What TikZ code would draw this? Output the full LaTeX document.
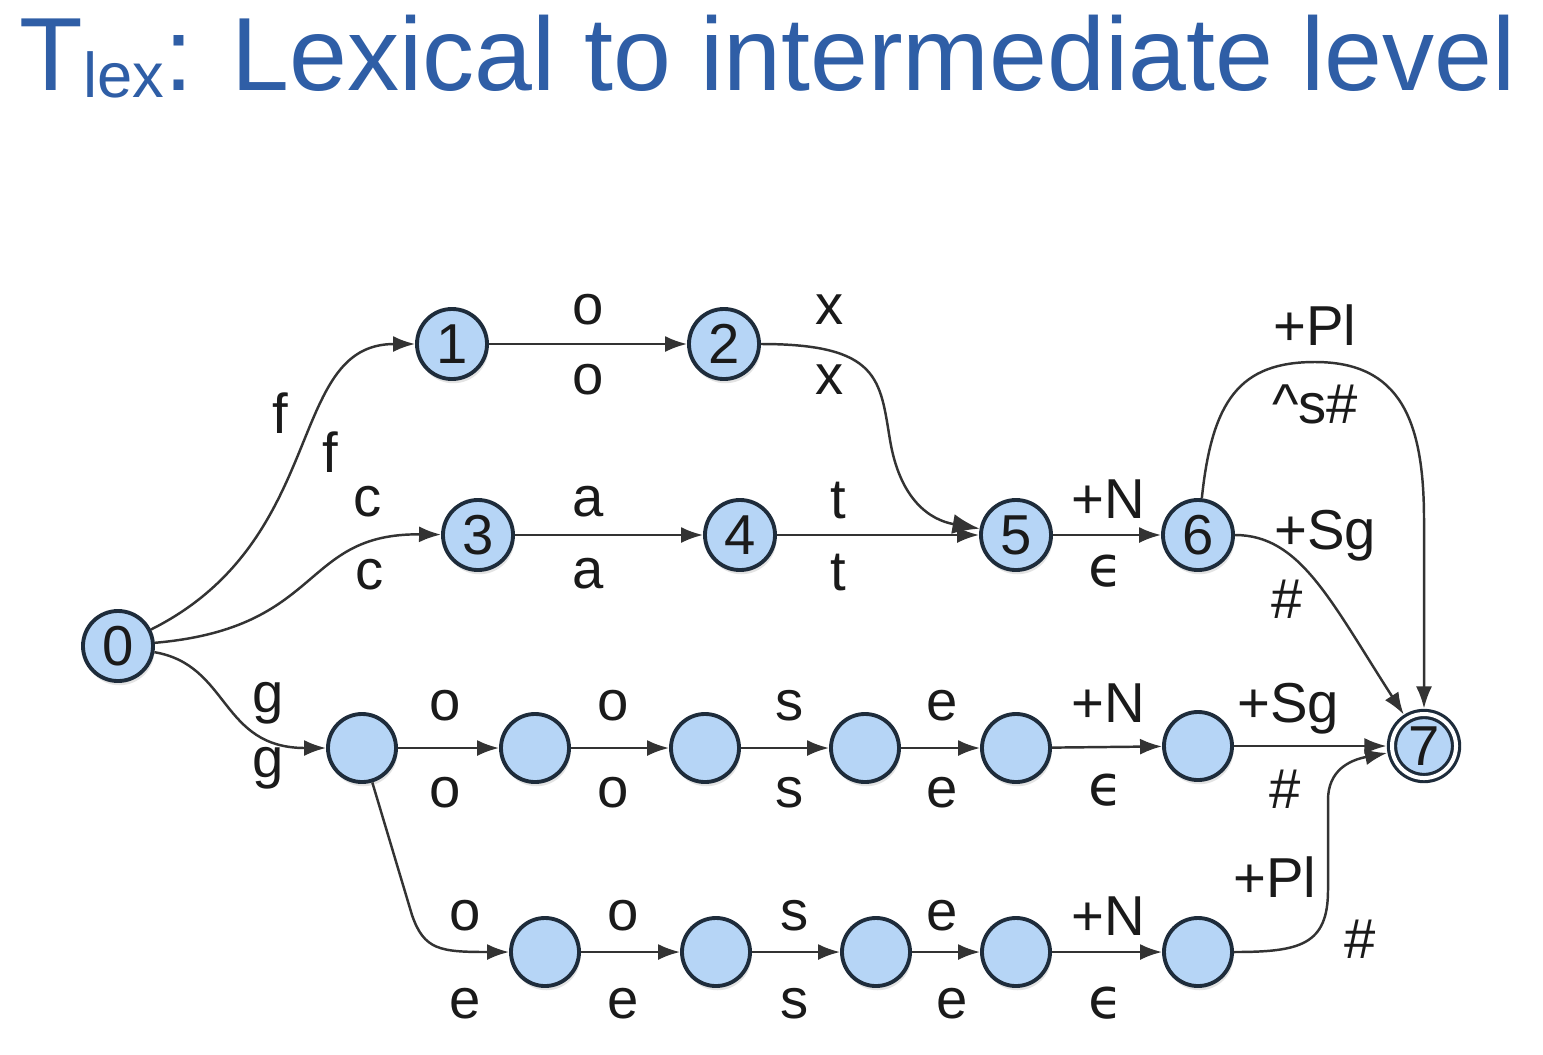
\documentclass[tikz,border=0pt]{standalone}
\usepackage{fontspec}
\setmainfont{Liberation Sans}
\newfontfamily\symfont{DejaVu Sans}
\usetikzlibrary{arrows.meta,shadows}
\definecolor{statefill}{HTML}{B6D5F6}
\definecolor{stateline}{HTML}{1E2C3B}
\definecolor{titleblue}{HTML}{2F5EA6}
\definecolor{ink}{HTML}{1A1A1A}
\definecolor{wire}{HTML}{333333}
\newcommand{\eps}{{\symfont ϵ}}
\begin{document}
\begin{tikzpicture}[x=0.01cm,y=-0.01cm,
  stt/.style={circle, draw=stateline, fill=statefill, line width=1.1pt,
    minimum size=0.7cm, inner sep=0pt, text=ink,
    font=\fontsize{16}{16}\selectfont,
    drop shadow={opacity=0.22, shadow xshift=0.4pt, shadow yshift=-1.2pt}},
  sttb/.style={stt, minimum size=0.68cm},
  sttf/.style={stt, double, double distance=0.04cm, line width=0.9pt,
    minimum size=0.64cm, outer sep=0.055cm},
  lbl/.style={anchor=base, text=ink, font=\fontsize{16}{16}\selectfont, inner sep=0pt},
  trans/.style={draw=wire, line width=0.7pt, -{Latex[length=0.22cm,width=0.16cm]}},
  bigtip/.style={-{Latex[length=0.27cm,width=0.2cm]}},
]
\useasboundingbox[fill=white] (0,0) rectangle (1543,1054);

% title
\node[anchor=base west, text=titleblue, inner sep=0pt,
  font=\fontsize{29.6}{30}\selectfont] (title) at (19,90)
  {T\raisebox{-0.07cm}{\fontsize{18}{18}\selectfont lex}: Lexical to intermediate level};

% numbered states
\node[stt] (q0) at (118,646) {0};
\node[stt] (q1) at (452,344) {1};
\node[stt] (q2) at (724,344) {2};
\node[stt] (q3) at (478,535) {3};
\node[stt] (q4) at (740,535) {4};
\node[stt] (q5) at (1016,535) {5};
\node[stt] (q6) at (1198,535) {6};
\node[sttf] (q7) at (1424,746) {7};

% goose row
\node[sttb] (g1) at (362,748) {};
\node[sttb] (g2) at (535,748) {};
\node[sttb] (g3) at (705,748) {};
\node[sttb] (g4) at (865,748) {};
\node[sttb] (g5) at (1016,748) {};
\node[sttb] (g6) at (1198,746) {};

% geese row
\node[sttb] (b1) at (545,952) {};
\node[sttb] (b2) at (716,952) {};
\node[sttb] (b3) at (876,952) {};
\node[sttb] (b4) at (1016,952) {};
\node[sttb] (b5) at (1198,952) {};

% transitions
\draw[trans] (q0) .. controls (330,540) and (285,344) .. (q1);
\draw[trans] (q0) .. controls (325,628) and (300,533) .. (q3);
\draw[trans] (q0) .. controls (230,665) and (220,748) .. (g1);
\draw[trans] (q1) -- (q2);
\draw[trans, bigtip] (q2) .. controls (880,344) and (880,380) .. (890,440)
  .. controls (900,500) and (930,520) .. (q5);
\draw[trans] (q3) -- (q4);
\draw[trans] (q4) -- (q5);
\draw[trans] (q5) -- (q6);
\draw[trans] (q6) .. controls (1212,400) and (1240,362) .. (1315,362)
  .. controls (1400,362) and (1424,420) .. (1424,520) -- (q7);
\draw[trans] (q6) .. controls (1300,535) and (1330,600) .. (q7);
\draw[trans] (g1) -- (g2);
\draw[trans] (g2) -- (g3);
\draw[trans] (g3) -- (g4);
\draw[trans] (g4) -- (g5);
\draw[trans] (g5) -- (g6);
\draw[trans] (g6) -- (q7);
\draw[trans] (g1) -- (412,915) .. controls (424,950) and (440,952) .. (b1);
\draw[trans] (b1) -- (b2);
\draw[trans] (b2) -- (b3);
\draw[trans] (b3) -- (b4);
\draw[trans] (b4) -- (b5);
\draw[trans] (b5) .. controls (1300,952) and (1328,945) .. (1328,890)
  -- (1328,800) .. controls (1328,770) and (1350,760) .. (q7);

% labels: fox / cat
\node[lbl] (lf1) at (280,433) {f};
\node[lbl] (lf2) at (330,472) {f};
\node[lbl] (lc1) at (368,516) {c};
\node[lbl] (lc2) at (370,589) {c};
\node[lbl] (lo1) at (588,324) {o};
\node[lbl] (lo2) at (588,394) {o};
\node[lbl] (lx1) at (830,324) {x};
\node[lbl] (lx2) at (830,394) {x};
\node[lbl] (la1) at (588,516) {a};
\node[lbl] (la2) at (588,588) {a};
\node[lbl] (lt1) at (838,518) {t};
\node[lbl] (lt2) at (838,590) {t};
\node[lbl] (ln1) at (1108,518) {+N};
\node[lbl] (le1) at (1106,586) {\eps};
\node[lbl] (lp1) at (1315,345) {+Pl};
\node[lbl] (ls1) at (1315,423) {\^{}s\#};
\node[lbl] (lsg1) at (1325,549) {+Sg};
\node[lbl] (lh1) at (1287,618) {\#};

% labels: goose
\node[lbl] (lg1) at (268,712) {g};
\node[lbl] (lg2) at (268,777) {g};
\node[lbl] at (445,720) {o};
\node[lbl] at (445,807) {o};
\node[lbl] at (613,720) {o};
\node[lbl] at (613,807) {o};
\node[lbl] at (790,720) {s};
\node[lbl] at (790,807) {s};
\node[lbl] at (942,720) {e};
\node[lbl] at (942,807) {e};
\node[lbl] at (1108,722) {+N};
\node[lbl] at (1106,805) {\eps};
\node[lbl] at (1288,722) {+Sg};
\node[lbl] at (1285,808) {\#};

% labels: geese
\node[lbl] at (465,930) {o};
\node[lbl] at (465,1018) {e};
\node[lbl] at (623,930) {o};
\node[lbl] at (623,1018) {e};
\node[lbl] at (795,930) {s};
\node[lbl] at (795,1018) {s};
\node[lbl] at (942,930) {e};
\node[lbl] at (952,1018) {e};
\node[lbl] at (1108,935) {+N};
\node[lbl] at (1106,1018) {\eps};
\node[lbl] at (1275,897) {+Pl};
\node[lbl] at (1360,958) {\#};
\end{tikzpicture}
\end{document}
